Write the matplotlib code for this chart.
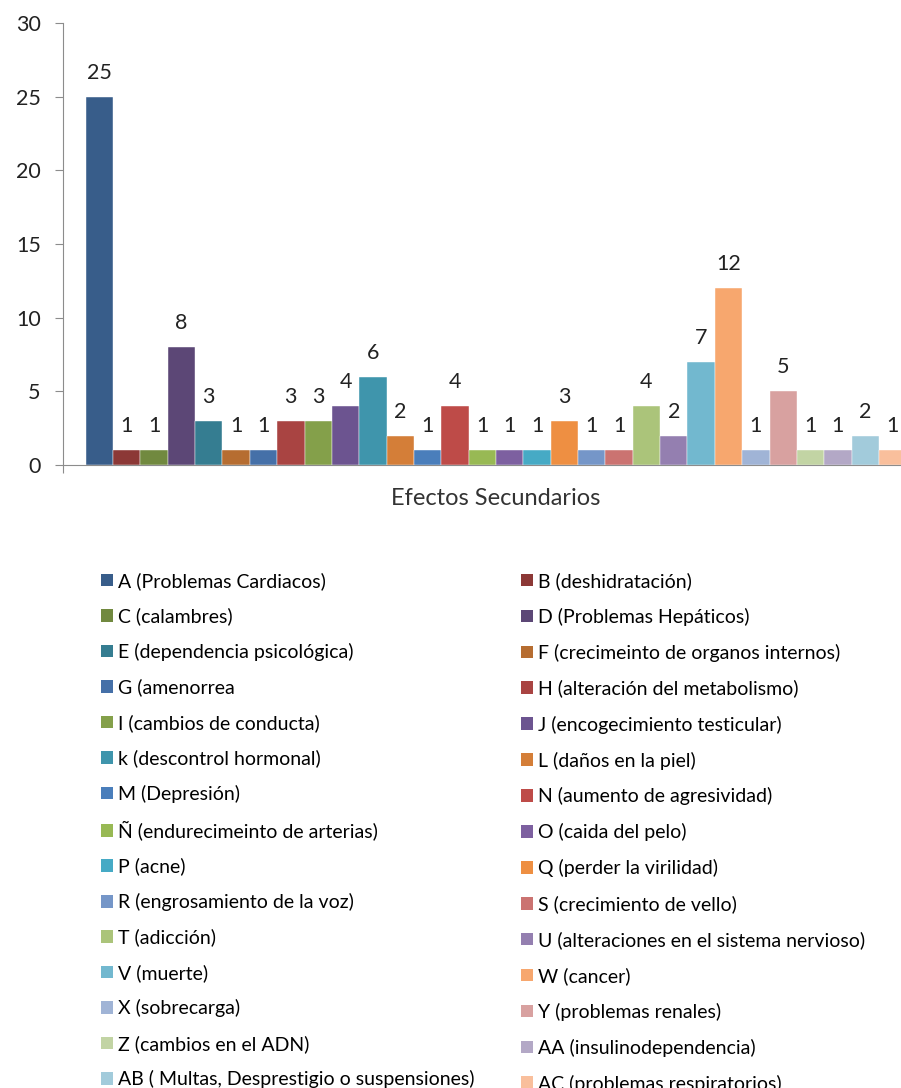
import matplotlib
matplotlib.use("Agg")
import matplotlib.pyplot as plt
from matplotlib.patches import Patch

plt.rcParams['font.family'] = ['Lato', 'DejaVu Sans']

# Efectos secundarios y número de menciones
codigos = ['A', 'B', 'C', 'D', 'E', 'F', 'G', 'H', 'I', 'J', 'k', 'L', 'M', 'N', 'Ñ',
           'O', 'P', 'Q', 'R', 'S', 'T', 'U', 'V', 'W', 'X', 'Y', 'Z', 'AA', 'AB', 'AC']
etiquetas = [
    'A (Problemas Cardiacos)', 'B (deshidratación)', 'C (calambres)',
    'D (Problemas Hepáticos)', 'E (dependencia psicológica)',
    'F (crecimeinto de organos internos)', 'G (amenorrea',
    'H (alteración del metabolismo)', 'I (cambios de conducta)',
    'J (encogecimiento testicular)', 'k (descontrol hormonal)',
    'L (daños en la piel)', 'M (Depresión)', 'N (aumento de agresividad)',
    'Ñ (endurecimeinto de arterias)', 'O (caida del pelo)', 'P (acne)',
    'Q (perder la virilidad)', 'R (engrosamiento de la voz)',
    'S (crecimiento de vello)', 'T (adicción)',
    'U (alteraciones en el sistema nervioso)', 'V (muerte)', 'W (cancer)',
    'X (sobrecarga)', 'Y (problemas renales)', 'Z (cambios en el ADN)',
    'AA (insulinodependencia)', 'AB ( Multas, Desprestigio o suspensiones)',
    'AC (problemas respiratorios)']
valores = [25, 1, 1, 8, 3, 1, 1, 3, 3, 4, 6, 2, 1, 4, 1,
           1, 1, 3, 1, 1, 4, 2, 7, 12, 1, 5, 1, 1, 2, 1]
colores = ['#385D8A', '#8C3836', '#71893F', '#5C4776', '#357D91', '#B66D31',
           '#4570A8', '#A94442', '#84A04A', '#6C5490', '#3F95AC', '#D47E38',
           '#4A7EBB', '#BE4B48', '#98B954', '#7D60A0', '#46AAC5', '#EE8F42',
           '#7596C8', '#CB7371', '#ABC47A', '#947FB0', '#72B8CF', '#F7A76E',
           '#A0B4D6', '#D8A1A0', '#C2D4A4', '#B3A8C6', '#A2CBDB', '#F9BF9C']

fig = plt.figure(figsize=(9.01, 10.88), dpi=100)
W, H = 901, 1088
ax = fig.add_axes([63 / W, 1 - 465 / H, 866 / W, 442 / H])

handles = []
for i, (v, c, lab) in enumerate(zip(valores, colores, etiquetas)):
    barras = ax.bar(i, v, width=1.0, color=c, edgecolor='white', linewidth=0.3)
    ax.bar_label(barras, padding=10, fontsize=15.5, color='#222222')
    handles.append(Patch(facecolor=c, label=lab))

ax.set_xlim(-1.33, 30.33)
ax.set_ylim(0, 30)
ax.set_yticks(range(0, 31, 5))
ax.set_xticks([-1.33, 30.33])
ax.set_xticklabels([])
for s in ['top', 'right']:
    ax.spines[s].set_visible(False)
for s in ['left', 'bottom']:
    ax.spines[s].set_color('#8C8C8C')
ax.tick_params(axis='y', direction='out', length=6, color='#8C8C8C',
               labelsize=15.5, labelcolor='#222222', pad=10)
ax.tick_params(axis='x', direction='out', length=6, color='#8C8C8C')
ax.set_xlabel('Efectos Secundarios', fontsize=17, color='#333333')
ax.xaxis.set_label_coords(0.5, -0.052)

# leyenda en dos columnas, ordenada por filas
kw = dict(frameon=False, fontsize=14, handlelength=0.62, handleheight=0.62,
          handletextpad=0.26, borderpad=0, borderaxespad=0, loc='upper left')
# la fila con "Ñ" es algo más alta, se compensa en la columna izquierda
leg1 = fig.legend(handles=handles[0::2], labelspacing=0.90,
                  bbox_to_anchor=(101 / W, 1 - 572 / H), **kw)
leg2 = fig.legend(handles=handles[1::2], labelspacing=0.92,
                  bbox_to_anchor=(521 / W, 1 - 572 / H), **kw)

fig.savefig('out.png', dpi=100)
